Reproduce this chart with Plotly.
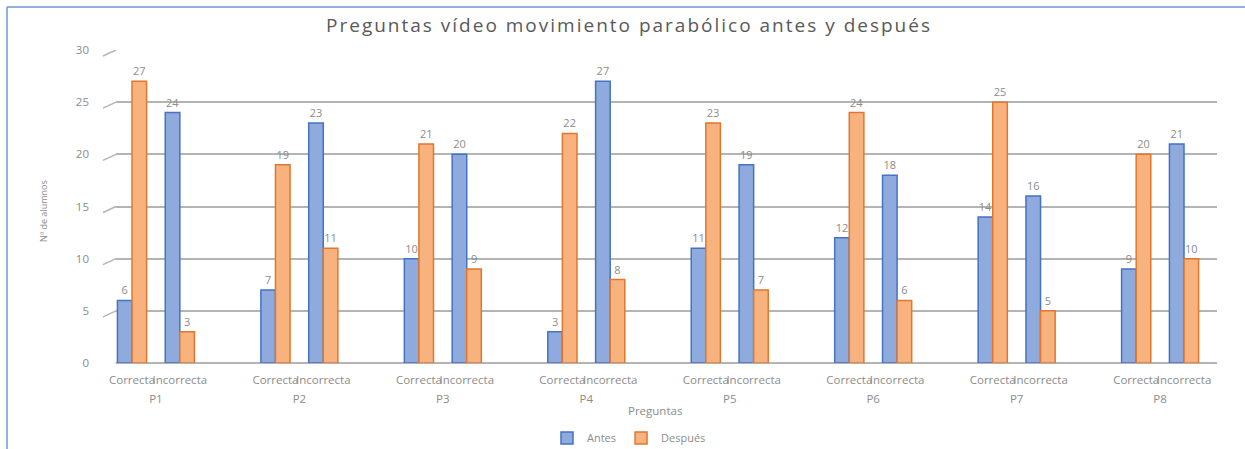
import plotly.graph_objects as go

preguntas = ["P1", "P2", "P3", "P4", "P5", "P6", "P7", "P8"]
respuestas = ["Correcta", "Incorrecta"]
antes_correcta = [6, 7, 10, 3, 11, 12, 14, 9]
antes_incorrecta = [24, 23, 20, 27, 19, 18, 16, 21]
despues_correcta = [27, 19, 21, 22, 23, 24, 25, 20]
despues_incorrecta = [3, 11, 9, 8, 7, 6, 5, 10]
y_ticks = [0, 5, 10, 15, 20, 25, 30]

# positions: each pregunta takes 3 slots (2 answers + gap)
xs, antes, despues, ticktext = [], [], [], []
for g in range(len(preguntas)):
    for s, r in enumerate(respuestas):
        xs.append(3 * g + s)
        ticktext.append(r)
    antes += [antes_correcta[g], antes_incorrecta[g]]
    despues += [despues_correcta[g], despues_incorrecta[g]]
group_centers = [3 * g + 0.5 for g in range(len(preguntas))]

W, H = 1245, 449
L, R, T, B = 116, 28, 50, 86
pw, ph = W - L - R, H - T - B

def px_x(px):
    return (px - L) / pw

def px_y(py):
    return (H - B - py) / ph

gray = "#8C8C8C"
font = "Open Sans"

fig = go.Figure()
fig.add_trace(go.Bar(
    name="Antes", x=xs, y=antes, text=antes, textposition="outside",
    marker=dict(color="#8FAADC", line=dict(color="#4472C4", width=1.5)),
    textfont=dict(color=gray, size=11, family=font), cliponaxis=False,
))
fig.add_trace(go.Bar(
    name="Después", x=xs, y=despues, text=despues, textposition="outside",
    marker=dict(color="#F8B27E", line=dict(color="#E0772E", width=1.5)),
    textfont=dict(color=gray, size=11, family=font), cliponaxis=False,
))
# invisible trace to activate second x axis for group labels
fig.add_trace(go.Scatter(x=group_centers, y=[0] * len(preguntas), xaxis="x2",
                         mode="markers", marker=dict(opacity=0), showlegend=False,
                         hoverinfo="skip"))

xr = [-0.335, 22.69]
fig.update_layout(
    width=W, height=H,
    margin=dict(l=L, r=R, t=T, b=B, autoexpand=False),
    paper_bgcolor="white", plot_bgcolor="white",
    barmode="group", bargap=0.39, bargroupgap=0,
    font=dict(family=font, color=gray),
    title=dict(text="Preguntas vídeo movimiento parabólico antes y después",
               x=629 / W, xanchor="center", y=1 - 25 / H, yanchor="middle",
               font=dict(size=19, color="#595959", family=font)),
    xaxis=dict(range=xr, tickvals=xs, ticktext=ticktext, showgrid=False,
               zeroline=False, showline=False, ticks="", tickangle=0,
               automargin=False,
               tickfont=dict(size=11.5, color=gray), ticklabelstandoff=8),
    xaxis2=dict(range=xr, overlaying="x", side="bottom", anchor="y",
                tickvals=group_centers, ticktext=preguntas, showgrid=False,
                zeroline=False, showline=False, ticks="", tickangle=0,
                automargin=False,
                tickfont=dict(size=11.5, color=gray), ticklabelstandoff=27),
    yaxis=dict(range=[0, 30], tickvals=y_ticks, showgrid=True,
               gridcolor="#B4B4B4", gridwidth=1.5, zeroline=True,
               zerolinecolor="#B4B4B4", zerolinewidth=1.5, automargin=False,
               tickfont=dict(size=11.5, color=gray), ticklabelstandoff=26),
    legend=dict(orientation="h", x=px_x(629), xanchor="center",
                y=px_y(438), yanchor="middle", font=dict(size=11, color=gray),
                itemwidth=30, traceorder="normal"),
    showlegend=True,
)

shapes = []
unit_px = ph / 30
for v in y_ticks:
    shapes.append(dict(type="line", xref="paper", yref="y",
                       x0=px_x(103), x1=0, y0=v - 6 / unit_px, y1=v,
                       line=dict(color="#B4B4B4", width=1.5)))
# chart frame (top and left)
shapes.append(dict(type="line", xref="paper", yref="paper",
                   x0=px_x(7), x1=px_x(W), y0=px_y(7), y1=px_y(7),
                   line=dict(color="#6F96D8", width=1.5)))
shapes.append(dict(type="line", xref="paper", yref="paper",
                   x0=px_x(7), x1=px_x(7), y0=px_y(7), y1=px_y(H),
                   line=dict(color="#6F96D8", width=1.5)))
fig.update_layout(shapes=shapes)

fig.add_annotation(text="Nº de alumnos", xref="paper", yref="paper",
                   x=px_x(43), y=px_y(211), textangle=-90, showarrow=False,
                   xanchor="center", yanchor="middle",
                   font=dict(size=9, color=gray, family=font))
fig.add_annotation(text="Preguntas", xref="paper", yref="paper",
                   x=px_x(655), y=px_y(410), showarrow=False,
                   xanchor="center", yanchor="middle",
                   font=dict(size=11.5, color=gray, family=font))

fig.write_html(
    "out.html",
    config={"displayModeBar": False},
    post_script=(
        "document.body.style.margin='0';document.body.style.overflow='hidden';"
        "document.querySelectorAll('.gtitle').forEach(function(t){"
        "t.style.letterSpacing='2px';});"
    ),
)
